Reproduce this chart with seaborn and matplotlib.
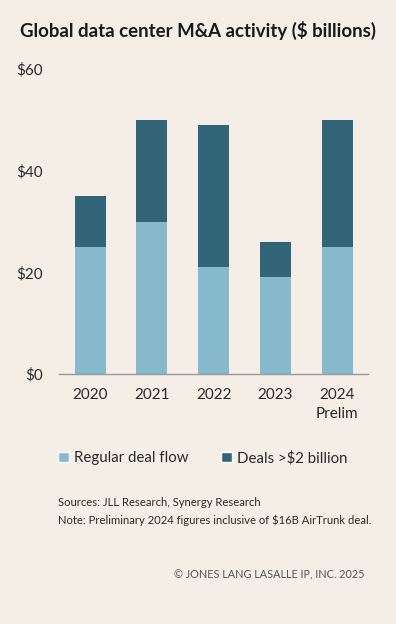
import numpy as np
import pandas as pd
import matplotlib
matplotlib.use("Agg")
import matplotlib.pyplot as plt
import seaborn as sns
from matplotlib.patches import Patch

# 数据
years = ["2020", "2021", "2022", "2023", "2024\nPrelim"]
regular = [25, 30, 21, 19, 25]
large = [10, 20, 28, 7, 25]
y_ticks = [0, 20, 40, 60]
y_labels = ["\\$0", "\\$20", "\\$40", "\\$60"]

bg = "#F4EEE7"
light = "#86B9CC"
dark = "#336579"
text_col = "#2a2a2a"

sns.set_theme(style="white")
plt.rcParams["font.family"] = ["Lato", "DejaVu Sans"]

df = pd.DataFrame({"year": years, "regular": regular, "large": large})
df["total"] = df["regular"] + df["large"]

fig = plt.figure(figsize=(3.96, 6.24), dpi=100, facecolor=bg)
ax = fig.add_axes([59.3 / 396, 250 / 624, 308.7 / 396, 305 / 624])
ax.set_facecolor(bg)

sns.barplot(data=df, x="year", y="total", color=dark, saturation=1, width=0.5,
            linewidth=0, ax=ax)
sns.barplot(data=df, x="year", y="regular", color=light, saturation=1, width=0.5,
            linewidth=0, ax=ax)

ax.set_xlim(-0.5, 4.5)
ax.set_ylim(0, 60)
ax.set_yticks(y_ticks)
ax.set_yticklabels(y_labels)
ax.set_xlabel("")
ax.set_ylabel("")
ax.tick_params(axis="y", length=0, pad=12, labelsize=11, labelcolor=text_col)
ax.tick_params(axis="x", length=0, pad=10, labelsize=11, labelcolor=text_col)
for lab in ax.get_xticklabels():
    lab.set_linespacing(1.45)
for s in ["top", "right", "left"]:
    ax.spines[s].set_visible(False)
ax.spines["bottom"].set_color("#999999")
ax.spines["bottom"].set_linewidth(1.0)

fig.text(20 / 396, 1 - 30 / 624, "Global data center M&A activity (\\$ billions)",
         fontsize=13.4, fontweight="bold", color="#1a1a1a", va="center", ha="left")

handles = [Patch(facecolor=light, label="Regular deal flow"),
           Patch(facecolor=dark, label="Deals >\\$2 billion")]
fig.legend(handles=handles, loc="center left", bbox_to_anchor=(58 / 396, 1 - 458 / 624),
           ncol=2, frameon=False, fontsize=10.8, handlelength=0.7, handleheight=0.7,
           handletextpad=0.35, columnspacing=2.2, borderpad=0, borderaxespad=0,
           labelcolor=text_col)

fig.text(58 / 396, 1 - 503 / 624, "Sources: JLL Research, Synergy Research",
         fontsize=8.1, color=text_col, va="center", ha="left")
fig.text(58 / 396, 1 - 520 / 624,
         "Note: Preliminary 2024 figures inclusive of \\$16B AirTrunk deal.",
         fontsize=8.1, color=text_col, va="center", ha="left")
fig.text(364 / 396, 1 - 575 / 624, "© JONES LANG LASALLE IP, INC. 2025",
         fontsize=7.8, color="#555555", va="center", ha="right")

fig.savefig("out.png", dpi=100, facecolor=bg)
